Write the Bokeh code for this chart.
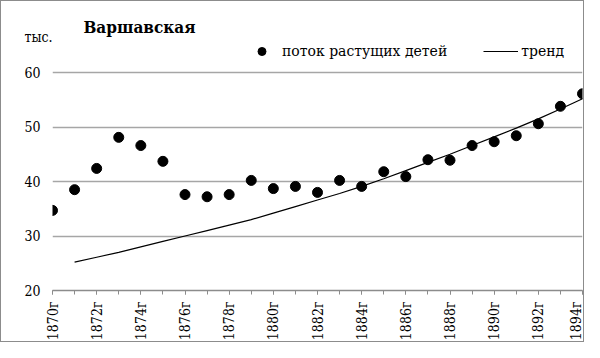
import math
from bokeh.plotting import figure
from bokeh.models import Range1d, FixedTicker, Label, Legend, LegendItem
from bokeh.embed import file_html
from bokeh.resources import INLINE

years = list(range(1870, 1895))
children = [34.7, 38.5, 42.4, 48.1, 46.6, 43.7, 37.6, 37.2, 37.6, 40.2,
            38.7, 39.1, 38.0, 40.2, 39.1, 41.8, 40.9, 44.0, 43.9, 46.6,
            47.3, 48.4, 50.6, 53.8, 56.1]
trend_years = list(range(1871, 1895))
trend = [25.2, 26.1, 27.0, 28.0, 29.0, 30.0, 31.0, 32.0, 33.0, 34.2,
         35.4, 36.6, 37.8, 39.1, 40.5, 42.0, 43.5, 45.0, 46.6, 48.2,
         49.8, 51.5, 53.3, 55.2]
y_ticks = [20, 30, 40, 50, 60]
x_major = list(range(1870, 1895, 2))
x_labels = {y: f"{y}г" for y in x_major}

title_text = "Варшавская"
unit_text = "тыс."
unit_pos = 66.6
series_name = "поток растущих детей"
trend_name = "тренд"

FONT = "DejaVu Serif Condensed"
NB = "\u00a0"

p = figure(width=584, height=342, output_backend="svg", toolbar_location=None,
           x_range=Range1d(1870, 1894), y_range=Range1d(20, 72.48),
           min_border_left=51, min_border_right=3, min_border_top=3,
           min_border_bottom=53)
p.outline_line_color = None
p.background_fill_color = "white"
p.border_fill_color = "white"
p.styles = {"border": "1px solid #8c8c8c"}

p.xgrid.grid_line_color = None
p.ygrid.grid_line_color = "#a6a6a6"
p.ygrid.grid_line_width = 1.5
p.ygrid.ticker = FixedTicker(ticks=y_ticks)

p.xaxis.ticker = FixedTicker(ticks=x_major, minor_ticks=years)
p.xaxis.major_label_overrides = x_labels
p.xaxis.major_label_orientation = math.pi / 2
p.xaxis.axis_line_color = "#8c8c8c"
p.xaxis.axis_line_width = 1.5
p.xaxis.major_tick_line_color = "#8c8c8c"
p.xaxis.minor_tick_line_color = "#8c8c8c"
p.xaxis.major_tick_in = 0
p.xaxis.major_tick_out = 4
p.xaxis.minor_tick_in = 0
p.xaxis.minor_tick_out = 4
p.xaxis.major_label_standoff = 7
p.xaxis.major_label_text_font = FONT
p.xaxis.major_label_text_font_size = "14px"
p.xaxis.major_label_text_color = "black"

y_labels = {t: f"{t}" + NB * 3 for t in y_ticks}
y_labels[unit_pos] = unit_text
p.yaxis.ticker = FixedTicker(ticks=y_ticks + [unit_pos])
p.yaxis.major_label_overrides = y_labels
p.yaxis.axis_line_color = None
p.yaxis.major_tick_line_color = None
p.yaxis.minor_tick_line_color = None
p.yaxis.major_tick_out = 0
p.yaxis.major_tick_in = 0
p.yaxis.major_label_standoff = 0
p.yaxis.major_label_text_font = FONT
p.yaxis.major_label_text_font_size = "14px"
p.yaxis.major_label_text_color = "black"

pts = p.scatter(years, children, size=10, color="black")
ln = p.line(trend_years, trend, line_color="black", line_width=1.2)

legend = Legend(items=[LegendItem(label=series_name, renderers=[pts]),
                       LegendItem(label=trend_name, renderers=[ln])],
                orientation="horizontal", location=(192, 229),
                glyph_width=35, glyph_height=20, label_height=20,
                label_standoff=3, spacing=36, padding=0, margin=0,
                border_line_color=None, background_fill_alpha=0,
                label_text_font="DejaVu Serif", label_text_font_size="14px",
                label_text_color="black")
p.add_layout(legend, "center")

p.add_layout(Label(x=1871.4, y=68.3, text=title_text, text_font=FONT,
                   text_font_size="17px", text_font_style="bold",
                   text_baseline="middle", text_color="black"))

open("out.html", "w").write(file_html(p, INLINE))
